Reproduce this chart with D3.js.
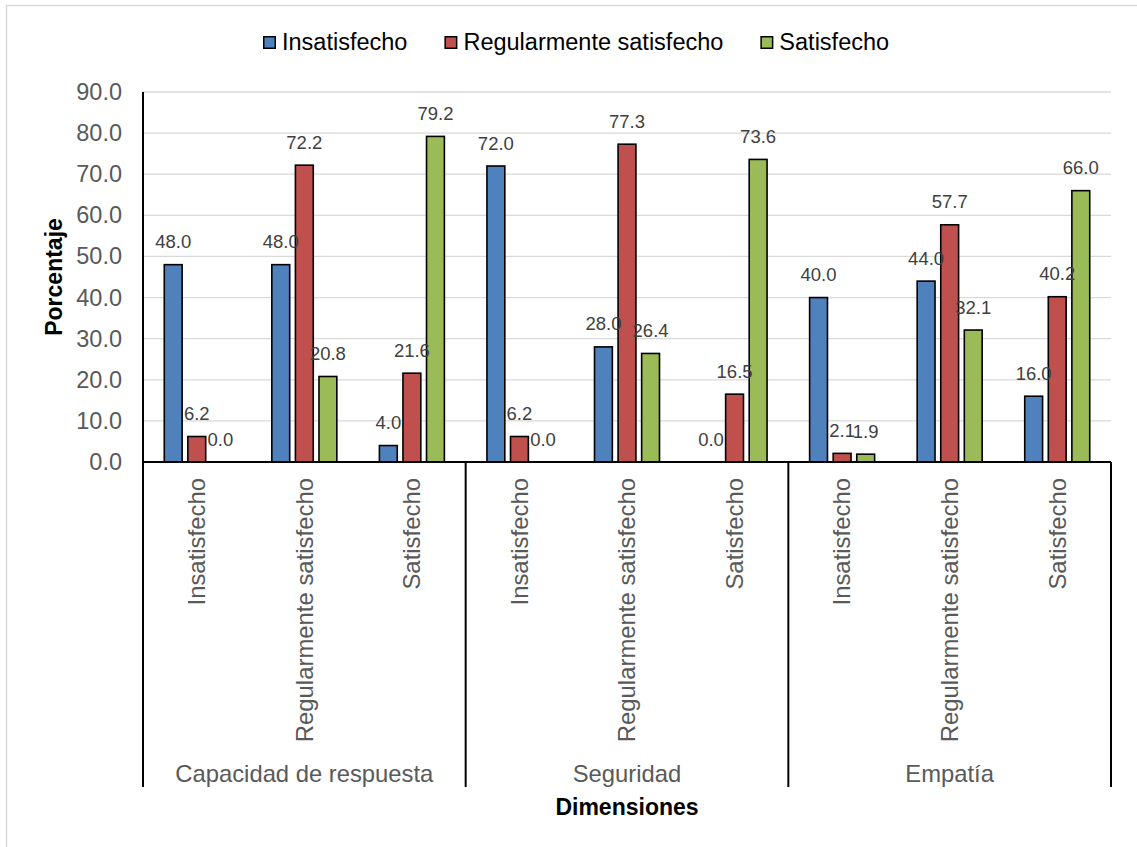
<!DOCTYPE html>
<html>

<head>
  <meta charset="utf-8">
  <title>GroupedBarChart</title>
  <script src="https://cdn.jsdelivr.net/npm/d3@7"></script>
  <style>
    body { margin: 0; background: #fff; }
    text { font-family: "Liberation Sans", Arial, sans-serif; }
  </style>
</head>

<body>
  <svg width="1137" height="847" id="mainsvg"></svg>
  <script>
    // datos
    const groups = ['Capacidad de respuesta', 'Seguridad', 'Empatía'];
    const levels = ['Insatisfecho', 'Regularmente satisfecho', 'Satisfecho'];
    const seriesKeys = ['Insatisfecho', 'Regularmente satisfecho', 'Satisfecho'];
    const insatisfecho = [48.0, 48.0, 4.0, 72.0, 28.0, 0.0, 40.0, 44.0, 16.0];
    const regular = [6.2, 72.2, 21.6, 6.2, 77.3, 16.5, 2.1, 57.7, 40.2];
    const satisfecho = [0.0, 20.8, 79.2, 0.0, 26.4, 73.6, 1.9, 32.1, 66.0];
    const yTicks = [0, 10, 20, 30, 40, 50, 60, 70, 80, 90];
    const colors = ['#4f81bd', '#c0504d', '#9bbb59'];

    const svg = d3.select('#mainsvg');
    const margin = { top: 92, left: 143, right: 26, bottom: 385 };
    const width = +svg.attr('width');
    const height = +svg.attr('height');
    const innerWidth = width - margin.left - margin.right;
    const innerHeight = height - margin.top - margin.bottom;

    // marco exterior (solo bordes izquierdo y superior visibles)
    svg.append('path')
      .attr('d', `M6.5,${height} V5.5 H${width}`)
      .attr('fill', 'none').attr('stroke', '#d9d9d9').attr('stroke-width', 1.5);

    const g = svg.append('g')
      .attr('transform', `translate(${margin.left}, ${margin.top})`);

    const rows = [];
    groups.forEach((grp, gi) => levels.forEach((lv, li) => {
      const i = gi * 3 + li;
      rows.push({ key: grp + '|' + lv, group: grp, level: lv, values: [insatisfecho[i], regular[i], satisfecho[i]] });
    }));

    const xScale = d3.scaleBand().domain(rows.map(d => d.key)).range([0, innerWidth]).padding(0);
    const xInner = d3.scaleBand().domain(seriesKeys).range([-33, 33]).paddingInner(0.2);
    const yScale = d3.scaleLinear().domain([0, 90]).range([innerHeight, 0]);

    // lineas de cuadricula
    g.selectAll('.grid').data(yTicks.slice(1)).join('line')
      .attr('class', 'grid')
      .attr('x1', 0).attr('x2', innerWidth)
      .attr('y1', d => yScale(d)).attr('y2', d => yScale(d))
      .attr('stroke', '#d9d9d9').attr('stroke-width', 1.3);

    // eje Y
    const yAxis = d3.axisLeft(yScale).tickValues(yTicks).tickFormat(d3.format('.1f')).tickSize(0).tickPadding(21);
    const yG = g.append('g').call(yAxis);
    yG.select('.domain').remove();
    yG.selectAll('text').attr('font-size', 23.5).attr('fill', '#595959')
      .attr('font-family', '"Liberation Sans", Arial, sans-serif');

    // barras
    const cat = g.selectAll('.cat').data(rows).join('g')
      .attr('class', 'cat')
      .attr('transform', d => `translate(${xScale(d.key) + xScale.bandwidth() / 2}, 0)`);

    cat.selectAll('rect').data(d => d.values.map((v, i) => ({ k: seriesKeys[i], v, i }))).join('rect')
      .attr('x', d => xInner(d.k) + 0.5)
      .attr('width', xInner.bandwidth() - 1)
      .attr('y', d => yScale(d.v))
      .attr('height', d => innerHeight - yScale(d.v))
      .attr('fill', d => colors[d.i])
      .attr('stroke', '#000').attr('stroke-width', 1.6)
      .style('display', d => d.v > 0 ? null : 'none');

    cat.selectAll('.lbl').data(d => d.values.map((v, i) => ({ k: seriesKeys[i], v }))).join('text')
      .attr('class', 'lbl')
      .attr('x', d => xInner(d.k) + xInner.bandwidth() / 2)
      .attr('y', d => yScale(d.v) - 16.5)
      .attr('text-anchor', 'middle')
      .attr('font-family', '"Open Sans", sans-serif')
      .attr('font-size', 18.5)
      .attr('fill', '#404040')
      .text(d => d3.format('.1f')(d.v));

    // eje X y separadores
    g.append('line')
      .attr('x1', 0).attr('x2', innerWidth)
      .attr('y1', innerHeight).attr('y2', innerHeight)
      .attr('stroke', '#000').attr('stroke-width', 2);
    g.append('line')
      .attr('x1', 0).attr('x2', 0)
      .attr('y1', 0).attr('y2', innerHeight)
      .attr('stroke', '#000').attr('stroke-width', 2);

    const sepX = groups.map(grp => xScale(grp + '|' + levels[0])).concat([innerWidth]);
    g.selectAll('.sep').data(sepX).join('line')
      .attr('class', 'sep')
      .attr('x1', d => d).attr('x2', d => d)
      .attr('y1', innerHeight).attr('y2', innerHeight + 325)
      .attr('stroke', '#000').attr('stroke-width', 2);

    // etiquetas de categorias
    g.selectAll('.catlbl').data(rows).join('text')
      .attr('class', 'catlbl')
      .attr('transform', d => `translate(${xScale(d.key) + xScale.bandwidth() / 2}, ${innerHeight + 16}) rotate(-90)`)
      .attr('text-anchor', 'end')
      .attr('dy', '0.35em')
      .attr('font-size', 23.9)
      .attr('fill', '#595959')
      .text(d => d.level);

    g.selectAll('.grplbl').data(groups).join('text')
      .attr('class', 'grplbl')
      .attr('x', d => xScale(d + '|' + levels[1]) + xScale.bandwidth() / 2)
      .attr('y', innerHeight + 320)
      .attr('text-anchor', 'middle')
      .attr('font-size', 23.8)
      .attr('fill', '#595959')
      .text(d => d);

    // titulos de ejes
    svg.append('text')
      .attr('transform', `translate(62, ${margin.top + innerHeight / 2}) rotate(-90)`)
      .attr('text-anchor', 'middle')
      .attr('font-size', 23)
      .attr('font-weight', 'bold')
      .attr('fill', '#000')
      .text('Porcentaje');

    svg.append('text')
      .attr('x', margin.left + innerWidth / 2)
      .attr('y', 815)
      .attr('text-anchor', 'middle')
      .attr('font-size', 23)
      .attr('font-weight', 'bold')
      .attr('fill', '#000')
      .text('Dimensiones');

    // leyenda
    const legend = svg.append('g').attr('transform', 'translate(263, 36)');
    let lx = 0;
    seriesKeys.forEach((k, i) => {
      const item = legend.append('g').attr('transform', `translate(${lx}, 0)`);
      item.append('rect')
        .attr('x', 0.75).attr('y', 0.75).attr('width', 11.5).attr('height', 11.5)
        .attr('fill', colors[i]).attr('stroke', '#000').attr('stroke-width', 1.5);
      const t = item.append('text')
        .attr('x', 19).attr('y', 14)
        .attr('font-size', 23.5)
        .attr('fill', '#000')
        .text(k);
      lx += 19 + t.node().getComputedTextLength() + 37;
    });
  </script>
</body>

</html>
